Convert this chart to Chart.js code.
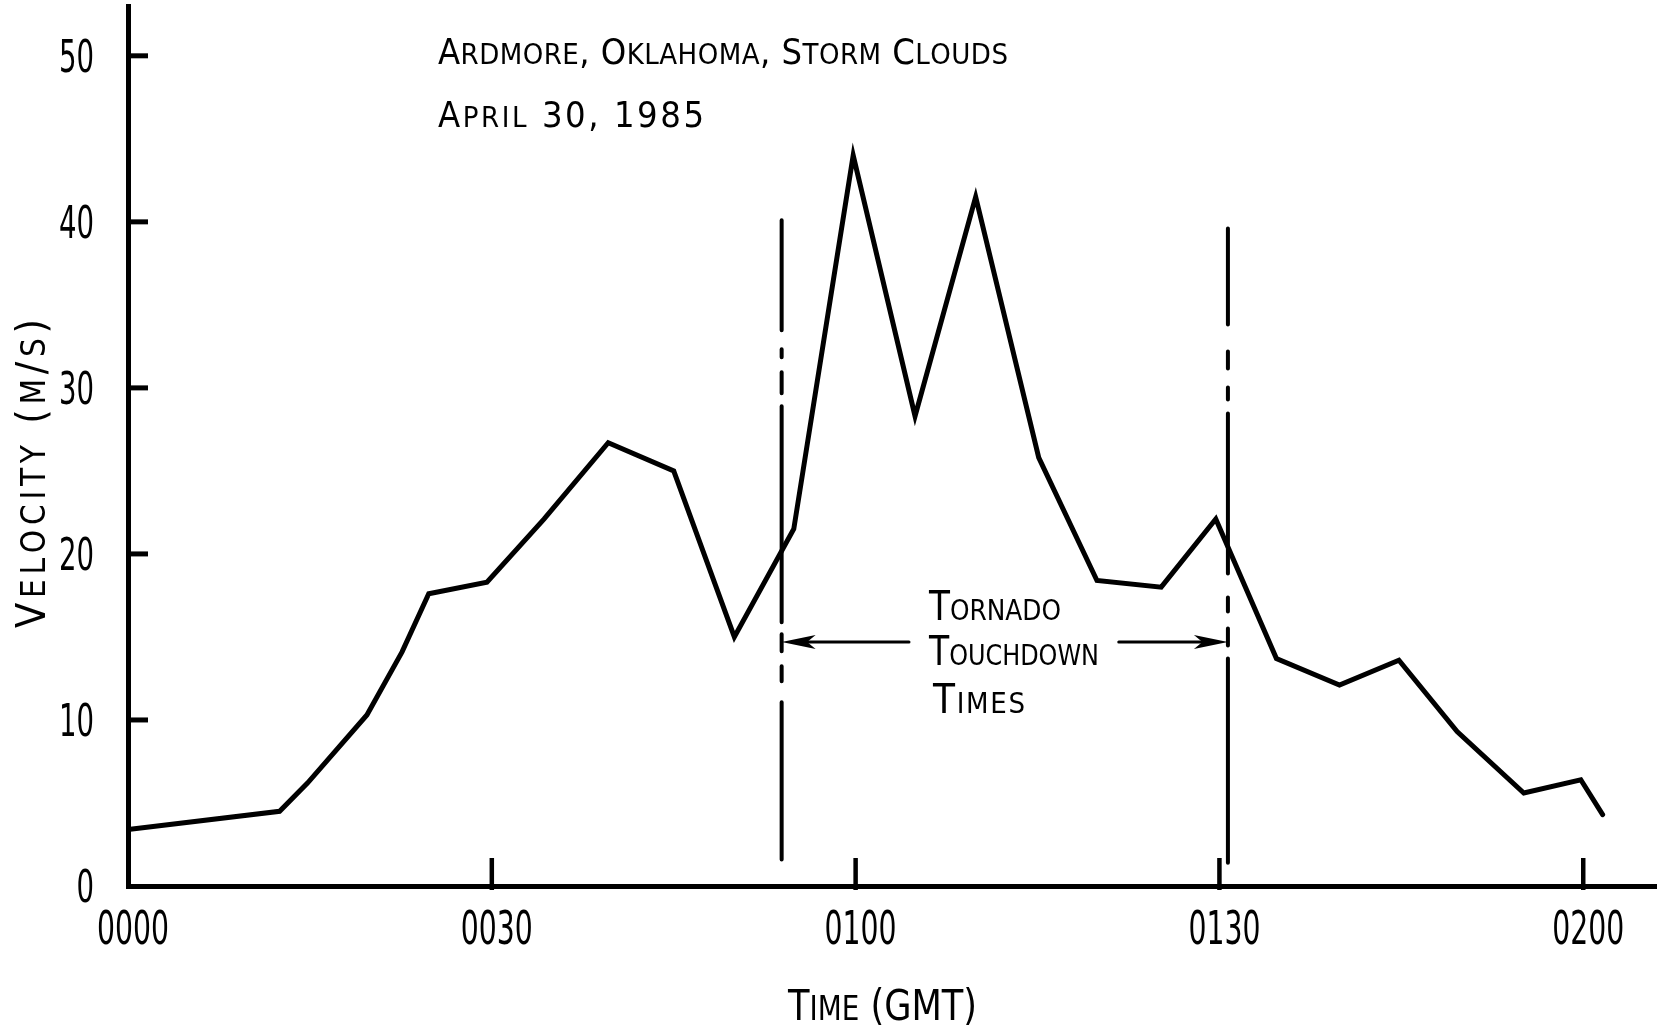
<!DOCTYPE html>
<html>
<head>
<meta charset="utf-8">
<title>Ardmore, Oklahoma, Storm Clouds — April 30, 1985</title>
<script src="https://cdn.jsdelivr.net/npm/chart.js@4.4.1/dist/chart.umd.min.js"></script>
<style>
  html, body { margin: 0; padding: 0; background: #fff; }
  #wrap { width: 1669px; height: 1028px; }
</style>
</head>
<body>
<div id="wrap"><canvas id="chart" width="1669" height="1028"></canvas></div>
<script>
// Observation times, minutes after 0000 GMT
const minutes = [0, 12.5, 14.8, 19.7, 22.6, 24.8, 29.6, 34.3, 39.6, 45.0, 50.0, 54.9, 59.8,
                 64.9, 69.9, 75.1, 79.9, 85.2, 89.7, 94.7, 99.9, 104.8, 109.6, 115.1, 119.8, 121.6];
// Storm-cloud velocity, m/s
const velocity = [3.4, 4.5, 6.2, 10.3, 14.1, 17.6, 18.3, 22.1, 26.7, 25.0, 15.0, 21.5, 44.0,
                  28.3, 41.5, 25.8, 18.4, 18.0, 22.1, 13.7, 12.1, 13.6, 9.3, 5.6, 6.4, 4.3];

const xTickValues = [0, 30, 60, 90, 120];
const xTickLabels = ['0000', '0030', '0100', '0130', '0200'];
const yTickValues = [0, 10, 20, 30, 40, 50];
const yTickLabels = ['0', '10', '20', '30', '40', '50'];

// Tornado touchdown markers (minutes) and the velocity span each marker covers
const touchdownMinutes = [53.9, 90.7];
const touchdownTop = [40.1, 39.6];
const touchdownBottom = [1.6, 1.4];
// Arrows from the note to each marker
const arrowLevel = 14.7;
const arrowTails = [64.4, 81.7];

const titleLines = ['Ardmore, Oklahoma, Storm Clouds', 'April 30, 1985'];
const noteLines = ['Tornado', 'Touchdown', 'Times'];
const xTitle = 'Time (GMT)';
const yTitle = 'Velocity (m/s)';

const FONT = "'DejaVu Sans Condensed', 'DejaVu Sans', sans-serif";
const CAP = 0.729;          // cap height of the lettering face, in em
const INK = '#000';

// Centre-line dash patterns (px) for the two touchdown markers, read from the top down
const markerDashes = [
  [110, 19, 8, 15, 21, 13, 216, 12, 17, 15, 15, 21, 400],
  [96, 27, 17, 19, 12, 14, 160, 24, 14, 17, 17, 13, 400]
];

// Lettering: capitals full height, lower-case letters drawn as small capitals
function drawCaps(ctx, text, x, y, bigSize, smallSize, width) {
  const glyphs = [...text].map(ch => {
    const lower = ch !== ch.toUpperCase();
    return { ch: ch.toUpperCase(), size: lower ? smallSize : bigSize };
  });
  let natural = 0;
  glyphs.forEach(g => {
    ctx.font = g.size + 'px ' + FONT;
    g.w = ctx.measureText(g.ch).width;
    natural += g.w;
  });
  let gap = 0, sx = 1;
  if (width) {
    if (width > natural) gap = (width - natural) / (glyphs.length - 1);
    else sx = width / natural;
  }
  ctx.save();
  ctx.translate(x, y);
  ctx.scale(sx, 1);
  ctx.fillStyle = INK;
  ctx.textAlign = 'left';
  ctx.textBaseline = 'alphabetic';
  let cx = 0;
  glyphs.forEach(g => {
    ctx.font = g.size + 'px ' + FONT;
    ctx.fillText(g.ch, cx, 0);
    cx += g.w + gap;
  });
  ctx.restore();
}

// Narrow stencil numerals: text centred vertically on cy, with a given width per digit
function drawNumerals(ctx, text, x, cy, size, digitW, align) {
  ctx.save();
  ctx.font = size + 'px ' + FONT;
  const natural = ctx.measureText(text).width;
  const w = digitW * text.length;
  const sx = w / natural;
  const left = align === 'right' ? x - w : x - w / 2;
  ctx.translate(left, cy + CAP * size / 2);
  ctx.scale(sx, 1);
  ctx.fillStyle = INK;
  ctx.textAlign = 'left';
  ctx.textBaseline = 'alphabetic';
  ctx.fillText(text, 0, 0);
  ctx.restore();
}

function arrow(ctx, x0, x1, y) {
  const dir = Math.sign(x1 - x0);
  const headLen = 34, half = 7;
  ctx.save();
  ctx.strokeStyle = INK;
  ctx.fillStyle = INK;
  ctx.lineWidth = 3;
  ctx.beginPath();
  ctx.moveTo(x0, y);
  ctx.lineTo(x1 - dir * headLen * 0.6, y);
  ctx.stroke();
  ctx.beginPath();
  ctx.moveTo(x1, y);
  ctx.lineTo(x1 - dir * headLen, y - half);
  ctx.lineTo(x1 - dir * headLen * 0.75, y);
  ctx.lineTo(x1 - dir * headLen, y + half);
  ctx.closePath();
  ctx.fill();
  ctx.restore();
}

const overlay = {
  id: 'overlay',
  afterDraw(chart) {
    const { ctx, chartArea: area, scales: { x, y } } = chart;
    ctx.save();
    ctx.strokeStyle = INK;
    ctx.lineCap = 'butt';

    // inward tick marks on the velocity axis
    ctx.lineWidth = 5;
    y.ticks.forEach((t, i) => {
      if (t.value <= 0) return;
      const py = y.getPixelForTick(i);
      ctx.beginPath();
      ctx.moveTo(area.left, py);
      ctx.lineTo(area.left + 20, py);
      ctx.stroke();
    });
    // upward tick marks on the time axis
    ctx.lineWidth = 4.5;
    x.ticks.forEach((t, i) => {
      if (t.value <= 0) return;
      const px = x.getPixelForTick(i);
      ctx.beginPath();
      ctx.moveTo(px, area.bottom + 4);
      ctx.lineTo(px, area.bottom - 28);
      ctx.stroke();
    });
    ctx.restore();

    // tick labels, placed by the scales
    y.ticks.forEach((t, i) => {
      const label = t.label != null ? String(t.label) : yTickLabels[yTickValues.indexOf(t.value)];
      drawNumerals(ctx, label, area.left - 34, y.getPixelForTick(i), 45, 17.5, 'right');
    });
    x.ticks.forEach((t, i) => {
      const label = t.label != null ? String(t.label) : xTickLabels[xTickValues.indexOf(t.value)];
      drawNumerals(ctx, label, x.getPixelForTick(i) + 5, area.bottom + 41, 47, 18, 'center');
    });

    ctx.save();
    ctx.strokeStyle = INK;
    // tornado touchdown markers
    ctx.lineWidth = 4;
    ctx.lineCap = 'round';
    touchdownMinutes.forEach((m, i) => {
      const px = x.getPixelForValue(m);
      ctx.setLineDash(markerDashes[i]);
      ctx.beginPath();
      ctx.moveTo(px, y.getPixelForValue(touchdownTop[i]));
      ctx.lineTo(px, y.getPixelForValue(touchdownBottom[i]));
      ctx.stroke();
    });
    ctx.setLineDash([]);

    // arrows from the note to the markers
    const ay = y.getPixelForValue(arrowLevel);
    touchdownMinutes.forEach((m, i) => {
      arrow(ctx, x.getPixelForValue(arrowTails[i]), x.getPixelForValue(m), ay);
    });
    ctx.restore();

    // headings
    drawCaps(ctx, titleLines[0], 438, 64, 36, 29, 570);
    drawCaps(ctx, titleLines[1], 438, 127, 36, 29, 266);

    // note between the markers
    drawCaps(ctx, noteLines[0], 929, 620, 40, 29, 132);
    drawCaps(ctx, noteLines[1], 929, 665, 40, 29, 170);
    drawCaps(ctx, noteLines[2], 933, 713, 40, 29, 92);

    // axis titles
    drawCaps(ctx, xTitle, 788, 1020, 43, 34, 189);
    ctx.save();
    ctx.translate(45, 628);
    ctx.rotate(-Math.PI / 2);
    drawCaps(ctx, yTitle, 0, 0, 41, 33, 309);
    ctx.restore();
  }
};

new Chart(document.getElementById('chart'), {
  type: 'line',
  data: {
    datasets: [{
      data: minutes.map((m, i) => ({ x: m, y: velocity[i] })),
      borderColor: INK,
      borderWidth: 5,
      borderJoinStyle: 'miter',
      borderCapStyle: 'round',
      pointRadius: 0,
      tension: 0,
      fill: false
    }]
  },
  options: {
    responsive: false,
    animation: false,
    devicePixelRatio: 1,
    layout: { autoPadding: false, padding: { top: 6, right: 13, left: 0, bottom: 0 } },
    plugins: { legend: { display: false }, tooltip: { enabled: false } },
    scales: {
      x: {
        type: 'linear',
        min: 0,
        max: 126,
        afterFit(s) { s.height = 142; },
        afterBuildTicks(s) { s.ticks = xTickValues.map(v => ({ value: v })); },
        grid: { display: false },
        border: { display: true, color: INK, width: 5 },
        ticks: {
          display: false,
          callback: v => xTickLabels[xTickValues.indexOf(v)],
          autoSkip: false,
          maxRotation: 0
        }
      },
      y: {
        type: 'linear',
        min: 0,
        max: 53,
        afterFit(s) { s.width = 128; },
        afterBuildTicks(s) { s.ticks = yTickValues.map(v => ({ value: v })); },
        grid: { display: false },
        border: { display: true, color: INK, width: 5 },
        ticks: {
          display: false,
          callback: v => yTickLabels[yTickValues.indexOf(v)],
          autoSkip: false
        }
      }
    }
  },
  plugins: [overlay]
});
</script>
</body>
</html>
